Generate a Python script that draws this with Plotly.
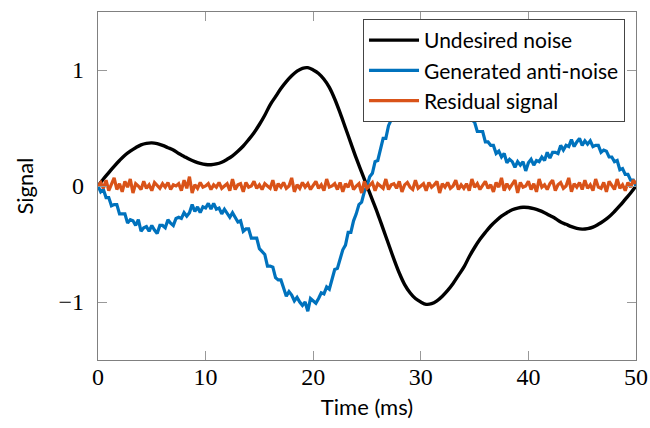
import numpy as np
import plotly.graph_objects as go

# Undesired noise, sampled every 0.5 ms from 0 to 50 ms
noise_first_half = [0.0, 0.06, 0.115, 0.17, 0.22, 0.265, 0.30, 0.33, 0.355, 0.368, 0.372,
                    0.365, 0.35, 0.33, 0.31, 0.28, 0.255, 0.23, 0.21, 0.195, 0.185,
                    0.183, 0.19, 0.205, 0.23, 0.26, 0.30, 0.345, 0.40, 0.46, 0.53,
                    0.61, 0.70, 0.77, 0.84, 0.90, 0.95, 0.99, 1.015, 1.02, 1.00,
                    0.97, 0.92, 0.85, 0.75, 0.63, 0.50, 0.37, 0.24, 0.12]
undesired = noise_first_half + [0.0] + [-0.12, -0.24, -0.37, -0.50, -0.63, -0.75, -0.85, -0.92, -0.97, -1.00,
                                        -1.02, -1.015, -0.99, -0.95, -0.90, -0.84, -0.77, -0.70, -0.61, -0.53,
                                        -0.46, -0.40, -0.345, -0.30, -0.26, -0.23, -0.205, -0.19, -0.183, -0.185,
                                        -0.195, -0.21, -0.23, -0.255, -0.28, -0.31, -0.33, -0.35, -0.365, -0.372,
                                        -0.368, -0.355, -0.33, -0.30, -0.265, -0.22, -0.17, -0.115, -0.06, 0.0]

# Generated anti-noise, sampled every 0.25 ms
anti_noise = [
    0.00, -0.05, -0.03, -0.10, -0.10, -0.17, -0.16, -0.16, -0.24, -0.24,
    -0.24, -0.32, -0.29, -0.30, -0.34, -0.29, -0.39, -0.36, -0.35, -0.39,
    -0.34, -0.38, -0.41, -0.34, -0.34, -0.36, -0.29, -0.32, -0.34, -0.28,
    -0.27, -0.28, -0.23, -0.26, -0.23, -0.16, -0.22, -0.18, -0.23, -0.18,
    -0.19, -0.15, -0.20, -0.15, -0.20, -0.19, -0.24, -0.20, -0.23, -0.27,
    -0.23, -0.27, -0.31, -0.30, -0.39, -0.37, -0.37, -0.45, -0.45, -0.45,
    -0.54, -0.57, -0.59, -0.69, -0.69, -0.70, -0.79, -0.81, -0.81, -0.88,
    -0.95, -0.91, -0.94, -0.99, -0.96, -1.00, -1.03, -1.00, -1.08, -0.97,
    -0.99, -1.01, -0.97, -0.92, -0.93, -0.87, -0.89, -0.79, -0.72, -0.71,
    -0.63, -0.55, -0.51, -0.40, -0.40, -0.30, -0.24, -0.16, -0.14, -0.05,
    0.00,
    0.08, 0.11, 0.21, 0.22, 0.32, 0.41, 0.41, 0.52, 0.57, 0.61,
    0.72, 0.76, 0.77, 0.87, 0.89, 0.95, 0.93, 0.98, 1.03, 0.99,
    1.03, 0.99, 1.03, 1.05, 0.98, 0.99, 0.99, 0.94, 0.96, 0.88,
    0.88, 0.88, 0.80, 0.79, 0.71, 0.71, 0.69, 0.59, 0.57, 0.55,
    0.47, 0.47, 0.47, 0.38, 0.38, 0.35, 0.35, 0.28, 0.30, 0.25,
    0.28, 0.20, 0.23, 0.21, 0.16, 0.21, 0.18, 0.21, 0.13, 0.20,
    0.23, 0.18, 0.22, 0.21, 0.25, 0.22, 0.29, 0.24, 0.29, 0.29,
    0.28, 0.35, 0.31, 0.35, 0.34, 0.40, 0.34, 0.38, 0.41, 0.35,
    0.39, 0.36, 0.39, 0.34, 0.35, 0.35, 0.29, 0.31, 0.30, 0.25,
    0.25, 0.21, 0.22, 0.14, 0.15, 0.10, 0.10, 0.05, 0.05, 0.00,
]

# Residual signal, sampled every 0.25 ms
residual = [
    0.00, 0.03, -0.02, 0.05, -0.04, 0.01, 0.07, -0.03, 0.02, -0.05,
    0.04, -0.01, 0.06, -0.06, 0.02, 0.00, -0.03, 0.04, -0.02, 0.01,
    -0.04, 0.03, 0.00, -0.02, 0.02, -0.01, 0.03, -0.03, 0.01, 0.00,
    0.02, -0.04, 0.05, -0.02, 0.08, -0.06, 0.01, -0.02, 0.03, -0.01,
    0.00, 0.02, -0.03, 0.01, -0.01, 0.03, -0.02, 0.00, 0.02, -0.04,
    0.06, -0.03, 0.01, 0.02, -0.05, 0.03, -0.01, 0.00, 0.04, -0.02,
    0.01, -0.03, 0.02, 0.00, -0.02, 0.05, -0.04, 0.02, -0.01, 0.03,
    -0.02, 0.00, 0.07, -0.05, 0.01, -0.02, 0.03, -0.01, 0.02, -0.03,
    0.00, 0.04, -0.02, 0.01, -0.04, 0.06, -0.01, 0.00, 0.02, -0.03,
    0.03, -0.05, 0.02, -0.01, 0.05, -0.03, 0.00, 0.02, -0.06, 0.04,
    -0.02, 0.01, 0.03, -0.04, 0.02, 0.00, -0.02, 0.06, -0.03, 0.01,
    0.02, -0.02, 0.04, -0.05, 0.01, 0.03, -0.01, -0.03, 0.05, -0.02,
    0.00, 0.02, -0.04, 0.03, -0.01, 0.01, 0.04, -0.06, 0.02, -0.01,
    0.03, -0.02, 0.00, 0.05, -0.03, 0.01, -0.02, 0.02, -0.04, 0.06,
    -0.01, 0.02, -0.03, 0.00, 0.04, -0.02, 0.01, -0.05, 0.03, -0.01,
    0.07, -0.04, 0.02, -0.02, 0.01, 0.05, -0.06, 0.03, -0.01, 0.00,
    0.04, -0.03, 0.02, -0.05, 0.06, -0.01, 0.01, -0.03, 0.02, 0.05,
    -0.04, 0.01, 0.03, -0.02, 0.00, 0.07, -0.05, 0.02, -0.01, 0.03,
    -0.03, 0.05, -0.02, 0.01, -0.04, 0.06, -0.01, -0.02, 0.03, -0.05,
    0.04, 0.00, -0.03, 0.06, -0.02, 0.01, -0.04, 0.03, -0.01, 0.05,
    0.02,
]

t_coarse = np.linspace(0, 50, len(undesired))
t_anti = np.linspace(0, 50, len(anti_noise))
t_res = np.linspace(0, 50, len(residual))

x_ticks = [0, 10, 20, 30, 40, 50]
y_ticks = [-1, 0, 1]

BLACK = "#000000"
BLUE = "#0072BD"
ORANGE = "#D95319"
SANS = "Lato"
SERIF = "Liberation Serif"

fig = go.Figure()
fig.add_trace(go.Scatter(x=t_coarse, y=undesired, mode="lines", name="Undesired noise",
                         line=dict(color=BLACK, width=3.4, shape="spline")))
fig.add_trace(go.Scatter(x=t_anti, y=anti_noise, mode="lines", name="Generated anti-noise",
                         line=dict(color=BLUE, width=3.2)))
fig.add_trace(go.Scatter(x=t_res, y=residual, mode="lines", name="Residual signal",
                         line=dict(color=ORANGE, width=3.2)))

axis_common = dict(
    showgrid=False, zeroline=False, showline=True, linecolor="#808080", linewidth=1.2,
    mirror="ticks", ticks="inside", ticklen=9, tickcolor="#999999", tickwidth=1,
    tickfont=dict(family=SERIF, size=24, color="#000000"),
    title_font=dict(family=SANS, size=22, color="#000000"),
    automargin=False,
)

fig.update_xaxes(range=[0, 50], tickvals=x_ticks, ticktext=[str(v) for v in x_ticks],
                 title_text="Time (ms)", title_standoff=10, ticklabelstandoff=-5, **axis_common)
fig.update_yaxes(range=[-1.5, 1.5], tickvals=y_ticks, ticktext=["\u22121", "0", "1"],
                 title_text="Signal", title_standoff=18, ticklabelstandoff=8, **axis_common)

fig.update_layout(
    width=650, height=428,
    margin=dict(l=98, r=14, t=12, b=68),
    plot_bgcolor="white", paper_bgcolor="white",
    legend=dict(x=0.9796, y=0.98, xanchor="right", yanchor="top",
                bgcolor="white", bordercolor="#444444", borderwidth=1,
                font=dict(family=SANS, size=21, color="#000000"),
                itemwidth=50),
    showlegend=True,
)

fig.write_html("out.html")
